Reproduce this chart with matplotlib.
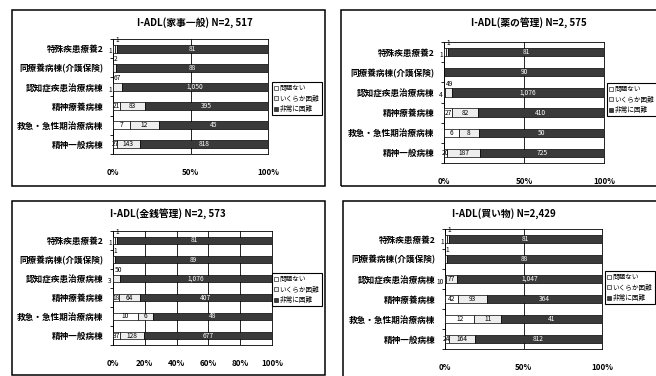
import numpy as np
import matplotlib
matplotlib.use("Agg")
import matplotlib.pyplot as plt
from matplotlib.patches import Rectangle, Patch

plt.rcParams['font.family'] = ['Noto Sans CJK JP', 'DejaVu Sans']

W, H = 656, 376

categories = ["特殊疾患療養2", "同療養病棟(介護保険)", "認知症疾患治療病棟",
              "精神療養病棟", "救急・急性期治療病棟", "精神一般病棟"]
series_names = ["問題ない", "いくらか困難", "非常に困難"]

# 家事一般
title_1 = "I-ADL(家事一般) N=2, 517"
ok_1 = [1, 0, 1, 21, 7, 27]
some_1 = [1, 2, 67, 83, 12, 143]
hard_1 = [81, 88, 1050, 395, 45, 818]

# 薬の管理
title_2 = "I-ADL(薬の管理) N=2, 575"
ok_2 = [1, 0, 4, 27, 6, 20]
some_2 = [1, 0, 49, 82, 8, 187]
hard_2 = [81, 90, 1076, 410, 50, 725]

# 金銭管理
title_3 = "I-ADL(金銭管理) N=2, 573"
ok_3 = [1, 0, 3, 18, 10, 37]
some_3 = [1, 1, 50, 64, 6, 128]
hard_3 = [81, 89, 1076, 407, 48, 677]

# 買い物
title_4 = "I-ADL(買い物) N=2,429"
ok_4 = [1, 0, 10, 42, 12, 24]
some_4 = [1, 1, 77, 93, 11, 164]
hard_4 = [81, 88, 1047, 364, 41, 812]

ticks_coarse = [0, 50, 100]
ticks_fine = [0, 20, 40, 60, 80, 100]

colors = ["white", "#ededed", "#3a3a3a"]

fig = plt.figure(figsize=(W / 100, H / 100), dpi=100)
fig.patch.set_facecolor("white")


def px_axes(x0, y0, x1, y1):
    return fig.add_axes([x0 / W, 1 - y1 / H, (x1 - x0) / W, (y1 - y0) / H])


def frame(x0, y0, x1, y1):
    fig.add_artist(Rectangle((x0 / W, 1 - y1 / H), (x1 - x0) / W, (y1 - y0) / H,
                             transform=fig.transFigure, fill=False,
                             ec="black", lw=1.1))


def panel(box, title, title_xy, ok, some, hard, ticks, legend_xy):
    ax = px_axes(*box)
    ok = np.array(ok, float)
    some = np.array(some, float)
    hard = np.array(hard, float)
    total = ok + some + hard
    parts = [ok, some, hard]
    y = np.arange(len(categories))
    h = 0.42
    left = np.zeros(len(categories))
    for k, vals in enumerate(parts):
        pct = vals / total * 100
        ax.barh(y, pct, left=left, height=h, color=colors[k],
                edgecolor="black", linewidth=0.5, zorder=3)
        for i in range(len(categories)):
            v = int(vals[i])
            if v == 0:
                continue
            txt = f"{v:,}"
            if k == 0 and pct[i] < 2:
                ax.text(-0.8, y[i] + 0.15, txt, ha="right", va="center",
                        fontsize=4.8, clip_on=False)
            elif k == 1 and pct[i] < 6.5:
                ax.text(left[i] + 0.6, y[i] - h / 2 - 0.03, txt, ha="left",
                        va="bottom", fontsize=4.8, zorder=4)
            else:
                ax.text(left[i] + pct[i] / 2, y[i], txt, ha="center",
                        va="center", fontsize=4.8, zorder=4,
                        color="white" if k == 2 else "black")
        left = left + pct

    ax.set_xlim(0, 100)
    ax.set_ylim(len(categories) - 0.5, -0.5)
    ax.set_yticks(y)
    ax.set_yticklabels(categories, fontsize=6.2, fontweight="bold")
    ax.set_yticks(np.arange(-0.5, len(categories), 1), minor=True)
    ax.tick_params(axis="y", which="major", length=0, pad=7)
    ax.tick_params(axis="y", which="minor", length=2, width=0.6)
    ax.set_xticks(ticks)
    ax.set_xticklabels([f"{t}%" for t in ticks], fontsize=5.8,
                       fontweight="bold")
    ax.tick_params(axis="x", length=0, pad=10)
    ax.grid(axis="x", color="black", lw=0.6)
    ax.set_axisbelow(True)
    for s in ax.spines.values():
        s.set_linewidth(0.6)

    fig.text(title_xy[0] / W, 1 - title_xy[1] / H, title, ha="center",
             va="center", fontsize=7.0, fontweight="bold")

    handles = [Patch(facecolor=c, edgecolor="black", lw=0.4) for c in colors]
    leg = ax.legend(handles, series_names, loc="upper left",
                    bbox_to_anchor=(legend_xy[0] / W, 1 - legend_xy[1] / H),
                    bbox_transform=fig.transFigure, fontsize=4.8,
                    handlelength=0.5, handleheight=0.5, handletextpad=0.3,
                    borderpad=0.35, labelspacing=0.35, borderaxespad=0,
                    fancybox=False, framealpha=1)
    leg.get_frame().set_edgecolor("black")
    leg.get_frame().set_linewidth(0.8)


panel((113, 39, 268, 154), title_1, (195, 23), ok_1, some_1, hard_1,
      ticks_coarse, (272, 82))
panel((444, 42, 604, 163), title_2, (529, 23), ok_2, some_2, hard_2,
      ticks_coarse, (607, 83))
panel((113, 231, 272, 345), title_3, (168, 214), ok_3, some_3, hard_3,
      ticks_fine, (272, 273))
panel((445, 229, 602, 349), title_4, (504, 214), ok_4, some_4, hard_4,
      ticks_coarse, (605, 271))

frame(12, 10, 325, 186)
frame(341, 10, 662, 186)
frame(12, 201, 325, 375)
frame(343, 201, 662, 382)

fig.savefig("out.png", dpi=100)
